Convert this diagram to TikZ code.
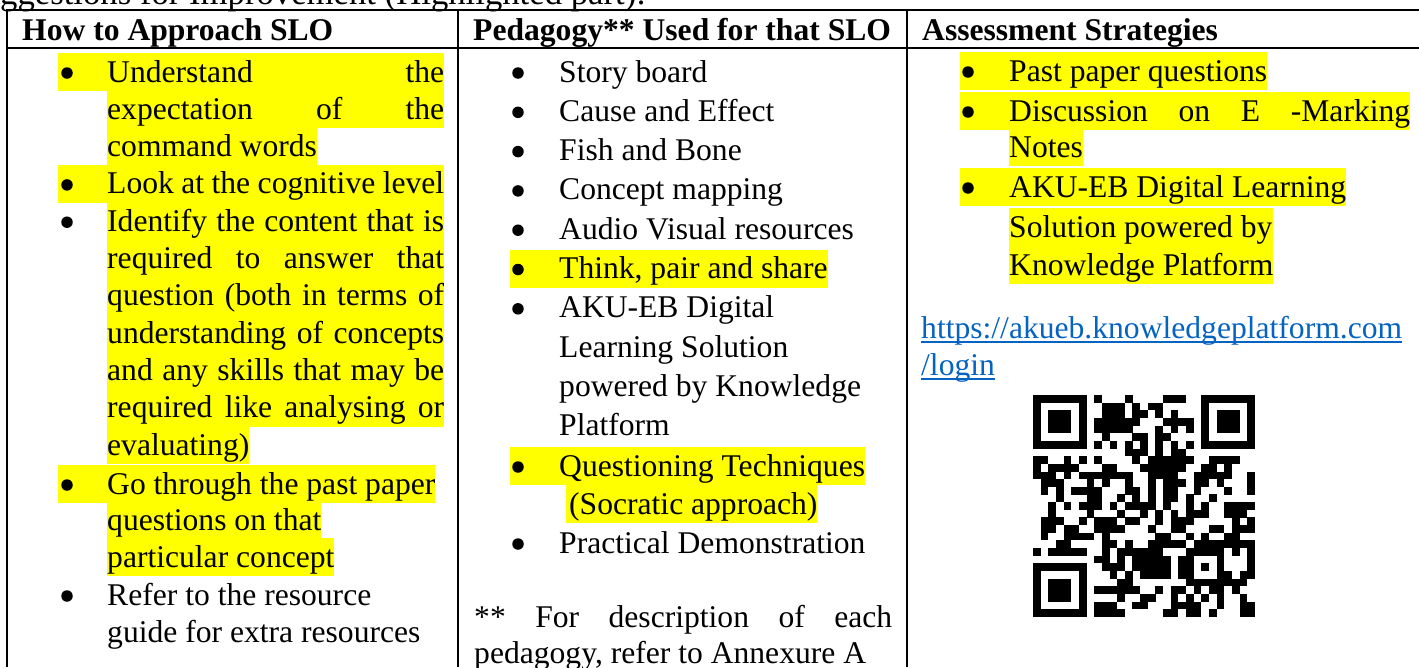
\documentclass[tikz,border=0pt]{standalone}
\usepackage{fontspec}
\setmainfont{Liberation Serif}
\definecolor{hlyellow}{HTML}{FFFF00}
\definecolor{linkblue}{HTML}{0563C1}

% QR drawing helpers: one row per call; 1 = dark, 0 = light, x = data module
\newcount\qrc
\def\qrsize{7.65}
\newcommand\qrmod{\fill[black] ({1033+\the\qrc*\qrsize},{395+\qrr*\qrsize}) rectangle +(7.75,7.75);}
\newcommand\qrline[2]{\qrc=0 \def\qrr{#1}\qrscan#2\relax}
\def\qrscan#1{\ifx\relax#1\else
  \if1#1\qrmod\fi
  \if x#1\pgfmathrandominteger{\qrb}{0}{1}\ifnum\qrb=1 \qrmod\fi\fi
  \advance\qrc by 1
  \expandafter\qrscan\fi}

\begin{document}
\begin{tikzpicture}[x=1pt,y=-1pt,
  txt/.style={anchor=base west, inner sep=0pt, font=\fontsize{31.6pt}{37pt}\selectfont},
  hl/.style={txt, fill=hlyellow, text height=29pt, text depth=9pt},
  hdr/.style={txt, font=\fontsize{31.6pt}{37pt}\selectfont\bfseries},
  bul/.style={circle, fill=black, inner sep=0pt, minimum size=11.5pt},
  link/.style={txt, text=linkblue},
  rule/.style={line width=2pt}]

\useasboundingbox (0,0) rectangle (1419,667);
\clip (0,0) rectangle (1419,667);

% caption above the table (partly outside the page)
\node[txt, font=\fontsize{34.7pt}{40pt}\selectfont] (cap) at (-36.6,4) {Suggestions for Improvement (Highlighted part):};

% table rules
\draw[rule] (6,10) -- (1419,10);
\draw[rule] (6,48) -- (1419,48);
\draw[rule] (7,10) -- (7,667);
\draw[rule] (458,10) -- (458,667);
\draw[rule] (907,10) -- (907,667);

% header
\node[hdr] (h1) at (22,40) {How to Approach SLO};
\node[hdr] (h2) at (473,40) {Pedagogy** Used for that SLO};
\node[hdr] (h3) at (922,40) {Assessment Strategies};

\begin{scope}[shift={(0,2)}]
% column 1
\node[hl] (a1) at (58,80) {\hspace*{49pt}\makebox[337pt][s]{Understand the}};
\node[hl] (a2) at (107,117.3) {\makebox[337pt][s]{expectation of the}};
\node[hl] (a3) at (107,154.6) {command words};
\node[hl] (a4) at (58,191.9) {\hspace*{49pt}\makebox[337pt][s]{Look at the cognitive level}};
\node[hl] (a5) at (107,229.2) {\makebox[337pt][s]{Identify the content that is}};
\node[hl] (a6) at (107,266.5) {\makebox[337pt][s]{required to answer that}};
\node[hl] (a7) at (107,303.8) {\makebox[337pt][s]{question (both in terms of}};
\node[hl] (a8) at (107,341.1) {\makebox[337pt][s]{understanding of concepts}};
\node[hl] (a9) at (107,378.4) {\makebox[337pt][s]{and any skills that may be}};
\node[hl] (a10) at (107,415.7) {\makebox[337pt][s]{required like analysing or}};
\node[hl] (a11) at (107,453) {evaluating)};
\node[hl] (a12) at (58,492) {\hspace*{49pt}Go through the past paper};
\node[hl] (a13) at (107,528) {questions on that};
\node[hl] (a14) at (107,565) {particular concept};
\node[txt] (a15) at (107,603) {Refer to the resource};
\node[txt] (a16) at (107,640) {guide for extra resources};
\foreach \y [count=\i] in {71,182.9,220.2,483,594}
  \node[bul] (ab\i) at (67,\y) {};

% column 2
\node[txt] (b1) at (559,80) {Story board};
\node[txt] (b2) at (559,119.3) {Cause and Effect};
\node[txt] (b3) at (559,158.6) {Fish and Bone};
\node[txt] (b4) at (559,197.9) {Concept mapping};
\node[txt] (b5) at (559,237.2) {Audio Visual resources};
\node[hl] (b6) at (510,276.5) {\hspace*{49pt}Think, pair and share};
\node[txt] (b7) at (559,315.8) {AKU-EB Digital};
\node[txt] (b8) at (559,355.1) {Learning Solution};
\node[txt] (b9) at (559,394.4) {powered by Knowledge};
\node[txt] (b10) at (559,433.7) {Platform};
\node[hl] (b11) at (510,474) {\hspace*{49pt}Questioning Techniques};
\node[hl] (b12) at (566,512) {\hspace*{3pt}(Socratic approach)};
\node[txt] (b13) at (559,551) {Practical Demonstration};
\foreach \y [count=\i] in {71,110.3,149.6,188.9,228.2,267.5,306.8,465,542}
  \node[bul] (bb\i) at (518,\y) {};
\node[txt] (b14) at (474,625) {\makebox[418pt][s]{** For description of each}};
\node[txt] (b15) at (474,661) {pedagogy, refer to Annexure A};

% column 3
\node[hl] (c1) at (960,79) {\hspace*{49pt}Past paper questions};
\node[hl] (c2) at (960,119) {\hspace*{49pt}\makebox[401pt][s]{Discussion on E -Marking}};
\node[hl] (c3) at (1009,155) {Notes};
\node[hl] (c4) at (960,195) {\hspace*{49pt}AKU-EB Digital Learning};
\node[hl] (c5) at (1009,235) {Solution powered by};
\node[hl] (c6) at (1009,273) {Knowledge Platform};
\foreach \y [count=\i] in {70,110,186}
  \node[bul] (cb\i) at (968,\y) {};
\node[link] (u1) at (921,336) {https://akueb.knowledgeplatform.com};
\node[link] (u2) at (921,373) {/login};
\draw[linkblue, line width=1.6pt] ([yshift=-4pt]u1.base west) -- ([yshift=-4pt]u1.base east);
\draw[linkblue, line width=1.6pt] ([yshift=-4pt]u2.base west) -- ([yshift=-4pt]u2.base east);
\end{scope}

% QR code (29 x 29 modules)
\pgfmathsetseed{4711}
\qrline{0}{11111110xxxxxxxxxxxxx01111111}
\qrline{1}{10000010xxxxxxxxxxxxx01000001}
\qrline{2}{10111010xxxxxxxxxxxxx01011101}
\qrline{3}{10111010xxxxxxxxxxxxx01011101}
\qrline{4}{10111010xxxxxxxxxxxxx01011101}
\qrline{5}{10000010xxxxxxxxxxxxx01000001}
\qrline{6}{11111110101010101010101111111}
\qrline{7}{00000000xxxxxxxxxxxxx00000000}
\qrline{8}{xxxxxx1xxxxxxxxxxxxxxxxxxxxxx}
\qrline{9}{xxxxxx0xxxxxxxxxxxxxxxxxxxxxx}
\qrline{10}{xxxxxx1xxxxxxxxxxxxxxxxxxxxxx}
\qrline{11}{xxxxxx0xxxxxxxxxxxxxxxxxxxxxx}
\qrline{12}{xxxxxx1xxxxxxxxxxxxxxxxxxxxxx}
\qrline{13}{xxxxxx0xxxxxxxxxxxxxxxxxxxxxx}
\qrline{14}{xxxxxx1xxxxxxxxxxxxxxxxxxxxxx}
\qrline{15}{xxxxxx0xxxxxxxxxxxxxxxxxxxxxx}
\qrline{16}{xxxxxx1xxxxxxxxxxxxxxxxxxxxxx}
\qrline{17}{xxxxxx0xxxxxxxxxxxxxxxxxxxxxx}
\qrline{18}{xxxxxx1xxxxxxxxxxxxxxxxxxxxxx}
\qrline{19}{xxxxxx0xxxxxxxxxxxxxxxxxxxxxx}
\qrline{20}{xxxxxx1xxxxxxxxxxxxx11111xxxx}
\qrline{21}{000000001xxxxxxxxxxx10001xxxx}
\qrline{22}{11111110xxxxxxxxxxxx10101xxxx}
\qrline{23}{10000010xxxxxxxxxxxx10001xxxx}
\qrline{24}{10111010xxxxxxxxxxxx11111xxxx}
\qrline{25}{10111010xxxxxxxxxxxxxxxxxxxxx}
\qrline{26}{10111010xxxxxxxxxxxxxxxxxxxxx}
\qrline{27}{10000010xxxxxxxxxxxxxxxxxxxxx}
\qrline{28}{11111110xxxxxxxxxxxxxxxxxxxxx}
\end{tikzpicture}
\end{document}
